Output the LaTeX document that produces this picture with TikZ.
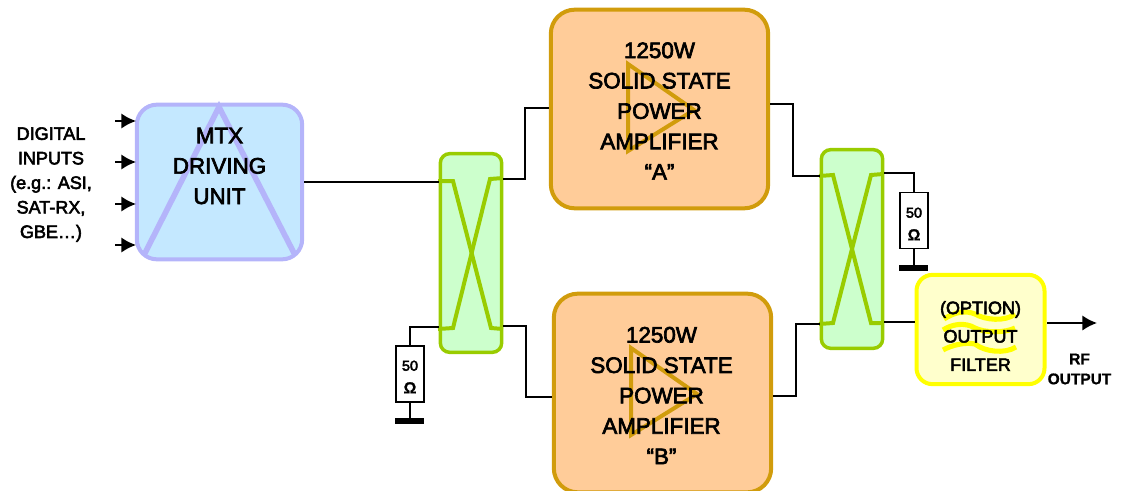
\documentclass[tikz,border=0pt]{standalone}
\usepackage{fontspec}
\usetikzlibrary{arrows.meta}
\setmainfont{Liberation Sans}[UprightFeatures={RawFeature={embolden=3}},BoldFeatures={RawFeature={embolden=1}}]
\definecolor{mtxline}{HTML}{B4B4FA}
\definecolor{mtxfill}{HTML}{C4E8FF}
\definecolor{ampline}{HTML}{D19C0C}
\definecolor{ampfill}{HTML}{FFCC99}
\definecolor{cplline}{HTML}{99CC00}
\definecolor{cplfill}{HTML}{CCFFCC}
\definecolor{filtline}{HTML}{FFFF00}
\definecolor{filtfill}{HTML}{FFFFCC}
\tikzset{
  mtxbox/.style={draw=mtxline,fill=mtxfill,line width=3pt,rounded corners=15pt,minimum width=124pt,minimum height=116pt,inner sep=0pt},
  ampbox/.style={draw=ampline,fill=ampfill,line width=3pt,rounded corners=18pt,minimum width=163pt,minimum height=149pt,inner sep=0pt},
  cplbox/.style={draw=cplline,fill=cplfill,line width=2.6pt,rounded corners=7pt,minimum width=46pt,minimum height=149pt,inner sep=0pt},
  filtbox/.style={draw=filtline,fill=filtfill,line width=3pt,rounded corners=12pt,minimum width=96pt,minimum height=82pt,inner sep=0pt},
  load/.style={draw=black,fill=white,line width=1.1pt,minimum width=21pt,minimum height=42pt,inner sep=0pt},
  loadtext/.style={align=center,inner sep=0pt,font=\fontsize{10.8}{17}\selectfont},
  gnd/.style={fill=black,minimum width=22pt,minimum height=4pt,inner sep=0pt},
  bigtext/.style={align=center,inner sep=0pt,font=\fontsize{16.8}{22.8}\selectfont},
  smalltext/.style={align=center,inner sep=0pt,font=\fontsize{13.5}{18.4}\selectfont},
  filttext/.style={align=center,inner sep=0pt,font=\fontsize{13.5}{21.3}\selectfont},
  wire/.style={line width=1.5pt},
  feed/.style={line width=1.5pt,-{Latex[length=11pt,width=11.5pt]}},
  sym/.style={line width=3pt,line join=miter},
  wavy/.style={filtline,line width=3.8pt},
}
\begin{document}
\begin{tikzpicture}[x=0.75pt,y=-0.75pt]
  \path[use as bounding box] (0,0) rectangle (1124,490);

  % driving unit
  \node[mtxbox] (mtx) at (219.5,182) {};
  \draw[sym,mtxline,line width=4.2pt] (144,255) -- (219,107) -- (295,255);
  \node[bigtext] (mtxtext) at (219.5,166) {MTX\\DRIVING\\UNIT};

  \node[smalltext] (inputs) at (51,184.5) {DIGITAL\\INPUTS\\(e.g.: ASI,\\SAT-RX,\\GBE…)};
  \foreach \y/\n in {121/a,162/b,204/c,245/d} {
    \coordinate (in\n) at (115,\y);
    \coordinate (to\n) at (136,\y);
    \draw[feed] (in\n) -- (to\n);
  }

  % amplifiers
  \node[ampbox] (ampA) at (659.5,109) {};
  \draw[sym,ampline] (628,64) -- (628,151) -- (694,110) -- cycle;
  \node[bigtext] (ampAtext) at (659.5,111) {1250W\\SOLID STATE\\POWER\\AMPLIFIER\\“A”};

  \node[ampbox] (ampB) at (662.5,393) {};
  \draw[sym,ampline] (631,348) -- (631,435) -- (697,394) -- cycle;
  \node[bigtext] (ampBtext) at (661.5,395.5) {1250W\\SOLID STATE\\POWER\\AMPLIFIER\\“B”};

  % couplers
  \node[cplbox] (cplin) at (471,253) {};
  \node[cplbox] (cplout) at (852,249) {};
  \draw[sym,cplline] (438,181) -- (453,181) -- (491,328) -- (503,329);
  \draw[sym,cplline] (438,329) -- (453,328) -- (490,179) -- (503,178);
  \draw[sym,cplline] (819,176) -- (833,175) -- (871,323) -- (882,323);
  \draw[sym,cplline] (819,324) -- (833,323) -- (871,175) -- (883,174);

  % loads
  \node[load] (loadin) at (410,374) {};
  \node[loadtext] (loadintext) at (410,377) {50\\{\bfseries\fontsize{12}{17}\selectfont Ω}};
  \node[gnd] (gndin) at (409.5,421) {};
  \node[load] (loadout) at (914,220.5) {};
  \node[loadtext] (loadouttext) at (914,224) {50\\{\bfseries\fontsize{12}{17}\selectfont Ω}};
  \node[gnd] (gndout) at (913.5,268) {};

  % filter
  \node[filtbox] (filt) at (980.5,329.5) {};
  \draw[wavy] (944,319) .. controls (955,312) and (965,310) .. (975,314) .. controls (985,320) and (1005,322) .. (1015,314);
  \draw[wavy] (943,330) .. controls (952,324) and (965,322) .. (975,328) .. controls (985,333) and (1005,333) .. (1015,328);
  \draw[wavy] (943,350) .. controls (952,345) and (965,342) .. (975,344) .. controls (985,352) and (1005,354) .. (1016,347);
  \node[filttext] (filttxt) at (980.5,336) {(OPTION)\\OUTPUT\\FILTER};
  \coordinate (rfout) at (1097,323);
  \coordinate (rfstart) at (1047,323);
  \node[inner sep=0pt,align=center,font=\bfseries\fontsize{11.6}{15}\selectfont] (rftext) at (1079.5,369) {RF\\OUTPUT};

  % wires
  \draw[wire] (mtx.east |- 0,182) -- (cplin.west |- 0,182);
  \draw[wire] (cplin.east |- 0,179) -- (525,179) -- (525,108) -- (ampA.west |- 0,108);
  \draw[wire] (cplin.east |- 0,326) -- (526,326) -- (526,397) -- (ampB.west |- 0,397);
  \draw[wire] (cplin.west |- 0,327) -| (loadin.north);
  \draw[wire] (loadin.south) -- (gndin.north -| loadin.south);
  \draw[wire] (ampA.east |- 0,104) -- (793,104) -- (793,176) -- (cplout.west |- 0,176);
  \draw[wire] (ampB.east |- 0,396) -- (796,396) -- (796,324) -- (cplout.west |- 0,324);
  \draw[wire] (cplout.east |- 0,173) -| (loadout.north);
  \draw[wire] (loadout.south) -- (gndout.north -| loadout.south);
  \draw[wire] (cplout.east |- 0,322) -- (filt.west |- 0,322);
  \draw[feed] (rfstart) -- (rfout);
\end{tikzpicture}
\end{document}
